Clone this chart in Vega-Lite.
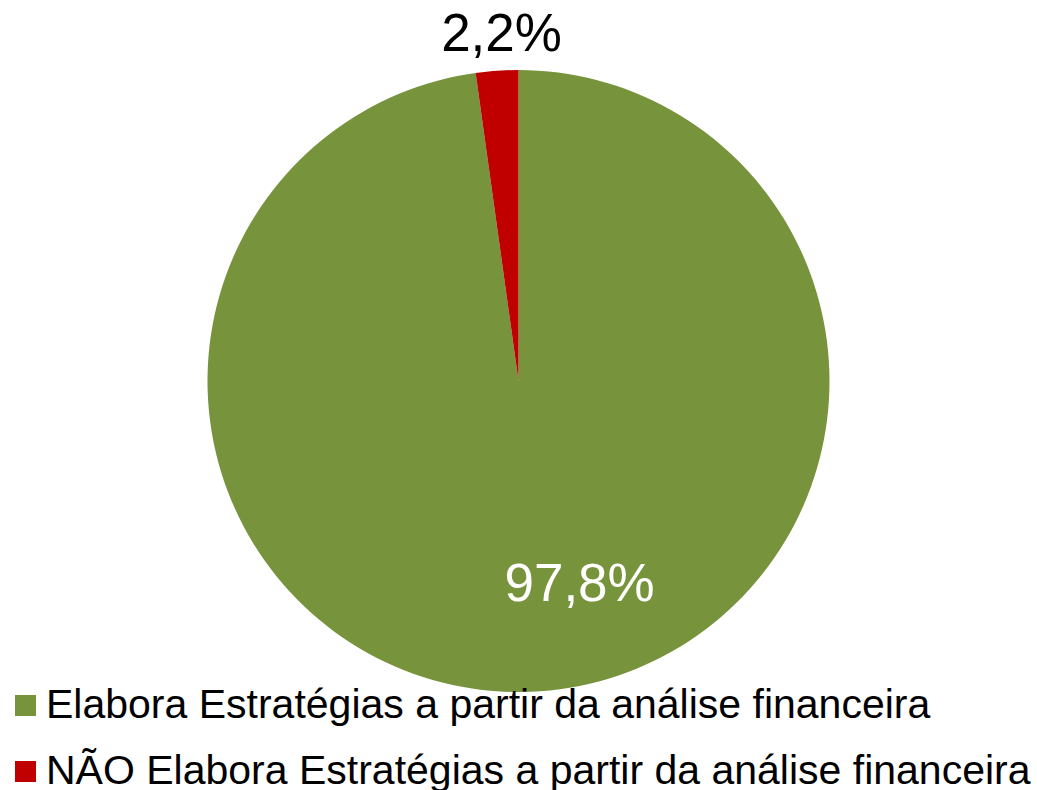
{
  "$schema": "https://vega.github.io/schema/vega-lite/v6.json",
  "width": 1037,
  "height": 762,
  "autosize": "none",
  "padding": {"left": 0, "right": 0, "top": 0, "bottom": 28},
  "background": "white",
  "config": {"view": {"stroke": null}, "font": "Liberation Sans"},
  "data": {"values": [
    {"categoria": "Elabora Estratégias a partir da análise financeira", "valor": 97.8, "rotulo": "97,8%"},
    {"categoria": "NÃO Elabora Estratégias a partir da análise financeira", "valor": 2.2, "rotulo": "2,2%"}
  ]},
  "encoding": {
    "theta": {"field": "valor", "type": "quantitative", "stack": true},
    "order": {"field": "valor", "type": "quantitative", "sort": "descending"},
    "color": {
      "field": "categoria", "type": "nominal",
      "scale": {"domain": ["Elabora Estratégias a partir da análise financeira", "NÃO Elabora Estratégias a partir da análise financeira"], "range": ["#77933C", "#C00000"]},
      "legend": {
        "title": null, "orient": "none", "legendX": 5, "legendY": 685,
        "symbolType": "square", "symbolSize": 441, "symbolStrokeWidth": 0,
        "labelFontSize": 41, "labelFont": "Liberation Sans", "labelColor": "black",
        "labelLimit": 0, "labelOffset": 0, "rowPadding": 24, "padding": 0
      }
    }
  },
  "layer": [
    {"mark": {"type": "arc", "radius": 311, "stroke": null}},
    {
      "mark": {"type": "text", "radius": 204, "dx": 47, "fontSize": 53, "align": "center", "baseline": "middle", "font": "Liberation Sans"},
      "encoding": {"text": {"condition": {"test": "datum.valor > 50", "field": "rotulo"}, "value": ""}, "color": {"value": "white"}}
    },
    {
      "mark": {"type": "text", "radius": 347, "dx": 7, "fontSize": 53, "align": "center", "baseline": "middle", "font": "Liberation Sans"},
      "encoding": {"text": {"condition": {"test": "datum.valor < 50", "field": "rotulo"}, "value": ""}, "color": {"value": "black"}}
    }
  ]
}
